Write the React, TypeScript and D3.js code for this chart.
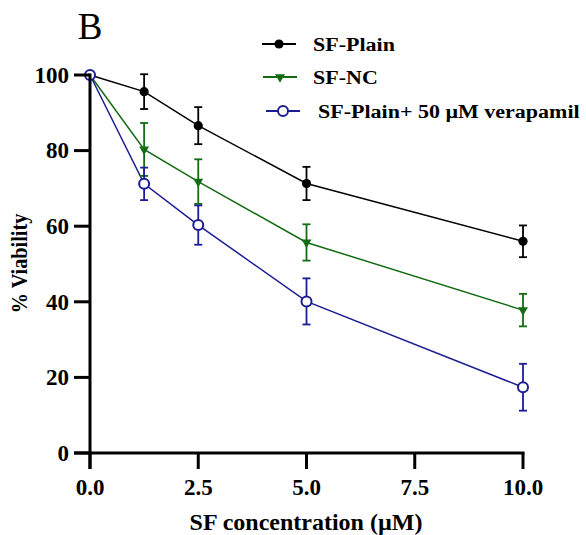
import React from 'react';
import * as d3 from 'd3';

const concentrations = [0, 1.25, 2.5, 5, 10];

const plainMean = [100, 95.6, 86.6, 71.3, 56.0];
const plainErr = [0, 4.6, 4.9, 4.4, 4.2];

const ncMean = [100, 80.3, 71.8, 55.7, 37.8];
const ncErr = [0, 7.0, 5.9, 4.8, 4.3];

const verapamilMean = [100, 71.2, 60.3, 40.1, 17.4];
const verapamilErr = [0, 4.3, 5.2, 6.1, 6.2];

const xTicks = [0, 2.5, 5, 7.5, 10];
const yTicks = [0, 20, 40, 60, 80, 100];

const seriesNames = ['SF-Plain', 'SF-NC', 'SF-Plain+ 50 \u00b5M verapamil'];

const FONT = '"Liberation Serif", "Times New Roman", serif';

const App = () => {
  const width = 586;
  const height = 535;
  const margin = { top: 75, right: 63, bottom: 82, left: 90 };
  const innerW = width - margin.left - margin.right;
  const innerH = height - margin.top - margin.bottom;

  const x = d3.scaleLinear().domain([0, 10]).range([0, innerW]);
  const y = d3.scaleLinear().domain([0, 100]).range([innerH, 0]);

  const line = d3.line<number>()
    .x((_, i) => x(concentrations[i]))
    .y(d => y(d));

  const series = [
    { name: seriesNames[0], mean: plainMean, err: plainErr, color: '#000000', marker: 'dot' },
    { name: seriesNames[1], mean: ncMean, err: ncErr, color: '#136b13', marker: 'tri' },
    { name: seriesNames[2], mean: verapamilMean, err: verapamilErr, color: '#1c1c94', marker: 'ring' },
  ];

  const triangle = d3.symbol().type(d3.symbolTriangle).size(42)();

  const marker = (kind: string, color: string, cx: number, cy: number, key: string) => {
    if (kind === 'dot') return <circle key={key} cx={cx} cy={cy} r={4.6} fill={color} />;
    if (kind === 'tri')
      return <path key={key} d={triangle || ''} transform={`translate(${cx},${cy}) rotate(180)`} fill={color} />;
    return <circle key={key} cx={cx} cy={cy} r={5} fill="#fff" stroke={color} strokeWidth={2} />;
  };

  const legendRows = [
    { y: 44, x1: 262, x2: 296, tx: 313 },
    { y: 77, x1: 263, x2: 297, tx: 313 },
    { y: 111, x1: 266, x2: 300, tx: 318 },
  ];

  return (
    <svg width={width} height={height} style={{ position: 'absolute', left: 0, top: 0 }}>
      <rect width={width} height={height} fill="#fff" />
      <text x={90} y={39} fontFamily={FONT} fontSize={37} textAnchor="middle" fill="#000">B</text>

      <g transform={`translate(${margin.left},${margin.top})`}>
        {/* lines */}
        {series.map(s => (
          <path key={s.name} d={line(s.mean) || ''} fill="none" stroke={s.color} strokeWidth={1.5} />
        ))}
        {/* error bars */}
        {series.map(s =>
          s.mean.map((m, i) => {
            if (!s.err[i]) return null;
            const cx = x(concentrations[i]);
            const top = y(m + s.err[i]);
            const bot = y(m - s.err[i]);
            return (
              <g key={s.name + i} stroke={s.color} strokeWidth={1.8}>
                <line x1={cx} x2={cx} y1={top} y2={bot} />
                <line x1={cx - 4} x2={cx + 4} y1={top} y2={top} />
                <line x1={cx - 4} x2={cx + 4} y1={bot} y2={bot} />
              </g>
            );
          })
        )}
        {/* markers */}
        {series.map(s =>
          s.mean.map((m, i) => marker(s.marker, s.color, x(concentrations[i]), y(m), s.name + 'm' + i))
        )}

        {/* axes */}
        <line x1={0} x2={0} y1={-1.5} y2={innerH + 16} stroke="#000" strokeWidth={3} />
        <line x1={-16} x2={innerW + 1.5} y1={innerH} y2={innerH} stroke="#000" strokeWidth={3} />
        {yTicks.map(t => (
          <g key={'y' + t}>
            <line x1={-16} x2={0} y1={y(t)} y2={y(t)} stroke="#000" strokeWidth={3} />
            <text x={-21} y={y(t)} dy="0.34em" textAnchor="end" fontFamily={FONT} fontWeight="bold" fontSize={23}>{t}</text>
          </g>
        ))}
        {xTicks.map(t => (
          <g key={'x' + t}>
            <line x1={x(t)} x2={x(t)} y1={innerH} y2={innerH + 16} stroke="#000" strokeWidth={3} />
            <text x={x(t)} y={innerH + 42} textAnchor="middle" fontFamily={FONT} fontWeight="bold" fontSize={23}>{t.toFixed(1)}</text>
          </g>
        ))}
      </g>

      <text x={306} y={530} textAnchor="middle" fontFamily={FONT} fontWeight="bold" fontSize={24}>SF concentration (µM)</text>
      <text transform="translate(27,263.5) rotate(-90) scale(0.88,1)" textAnchor="middle" fontFamily={FONT} fontWeight="bold" fontSize={23}>% Viability</text>

      {/* legend */}
      {series.map((s, i) => {
        const r = legendRows[i];
        return (
          <g key={'lg' + i}>
            <line x1={r.x1} x2={r.x2} y1={r.y} y2={r.y} stroke={s.color} strokeWidth={1.8} />
            {marker(s.marker, s.color, (r.x1 + r.x2) / 2, r.y, 'lm' + i)}
            <text transform={`translate(${r.tx},${r.y + 6.5}) scale(1,0.88)`} fontFamily={FONT} fontWeight="bold" fontSize={22}>{s.name}</text>
          </g>
        );
      })}
    </svg>
  );
};

export default App;
